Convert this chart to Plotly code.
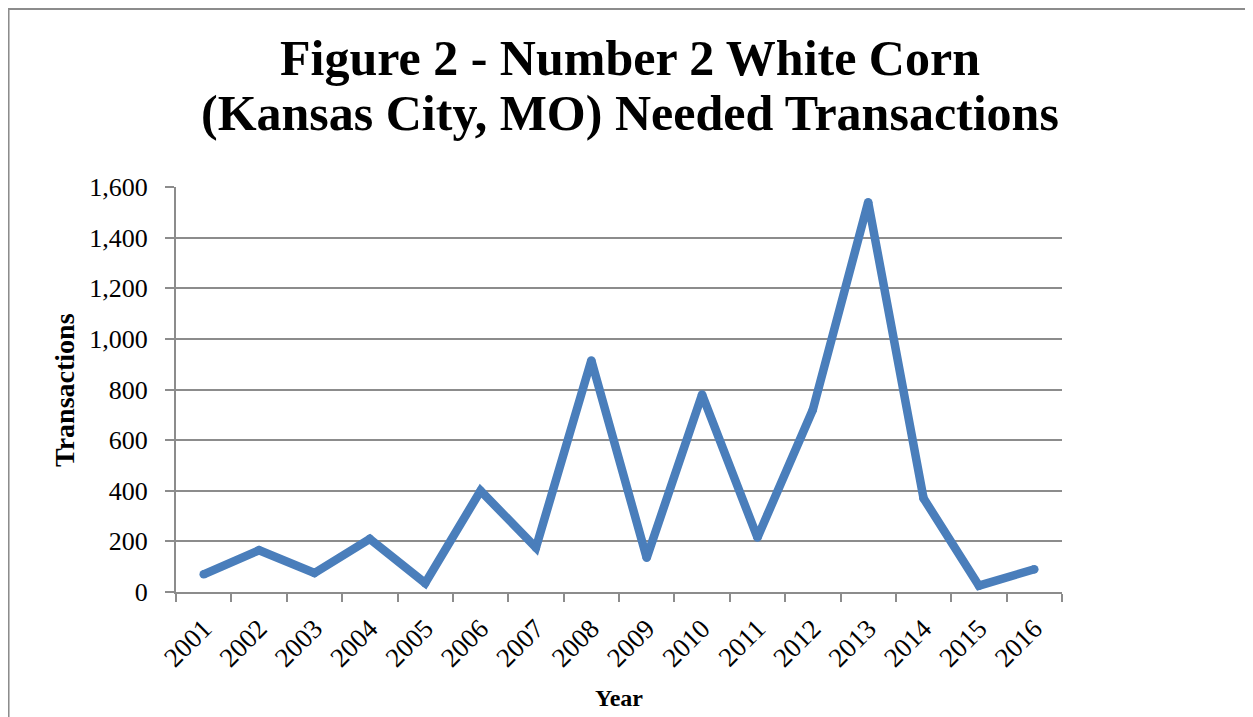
import plotly.graph_objects as go

years = ["2001", "2002", "2003", "2004", "2005", "2006", "2007", "2008",
         "2009", "2010", "2011", "2012", "2013", "2014", "2015", "2016"]
transactions = [70, 165, 75, 210, 35, 400, 175, 915,
                135, 780, 215, 720, 1540, 370, 25, 90]
y_ticks = [0, 200, 400, 600, 800, 1000, 1200, 1400, 1600]
y_tick_labels = ["0", "200", "400", "600", "800", "1,000", "1,200", "1,400", "1,600"]

title_line1 = "Figure 2 - Number 2 White Corn"
title_line2 = "(Kansas City, MO) Needed Transactions"
x_title = "Year"
y_title = "Transactions"

FONT = "Liberation Serif"
GRID = "#8c8c8c"
LINE = "#4A7EBB"

fig = go.Figure()
fig.add_trace(go.Scatter(
    x=years, y=transactions, mode="lines+markers",
    line=dict(color=LINE, width=8.5),
    marker=dict(color=LINE, size=8.5, line=dict(width=0)),
    cliponaxis=False, hoverinfo="x+y",
))

fig.update_layout(
    width=1245, height=709, autosize=False,
    margin=dict(l=168, r=191, t=179, b=125),
    paper_bgcolor="white", plot_bgcolor="white",
    showlegend=False,
    font=dict(family=FONT, color="black", size=26),
    xaxis=dict(
        type="category", range=[-0.5, 15.5], tickson="boundaries",
        ticks="outside", ticklen=8, tickwidth=2, tickcolor=GRID,
        showline=True, linecolor=GRID, linewidth=2,
        showgrid=False, tickangle=-45, ticklabelstandoff=8,
        tickfont=dict(family=FONT, size=27, color="black"),
    ),
    yaxis=dict(
        range=[0, 1600], tickvals=y_ticks, ticktext=y_tick_labels,
        ticks="outside", ticklen=9, tickwidth=2, tickcolor=GRID,
        showline=True, linecolor=GRID, linewidth=2,
        showgrid=True, gridcolor=GRID, gridwidth=2, zeroline=False,
        ticklabelstandoff=12,
        tickfont=dict(family=FONT, size=26, color="black"),
    ),
    shapes=[dict(type="rect", xref="paper", yref="paper",
                 x0=-0.1890, x1=2.0, y0=-2.0, y1=1.4395,
                 line=dict(color="#8c8c8c", width=2), layer="below")],
    annotations=[
        dict(text="<b>" + title_line1 + "</b>", xref="paper", yref="paper",
             x=0.5124, y=1.319, xanchor="center", yanchor="middle",
             showarrow=False, font=dict(family=FONT, size=50, color="black")),
        dict(text="<b>" + title_line2 + "</b>", xref="paper", yref="paper",
             x=0.5124, y=1.182, xanchor="center", yanchor="middle",
             showarrow=False, font=dict(family=FONT, size=50, color="black")),
        dict(text="<b>" + x_title + "</b>", xref="paper", yref="paper",
             x=0.5, y=-0.262, xanchor="center", yanchor="middle",
             showarrow=False, font=dict(family=FONT, size=24, color="black")),
        dict(text="<b>" + y_title + "</b>", xref="paper", yref="paper",
             x=-0.1253, y=0.4988, xanchor="center", yanchor="middle",
             textangle=-90, showarrow=False,
             font=dict(family=FONT, size=28, color="black")),
    ],
)

fig.write_html("out.html")
